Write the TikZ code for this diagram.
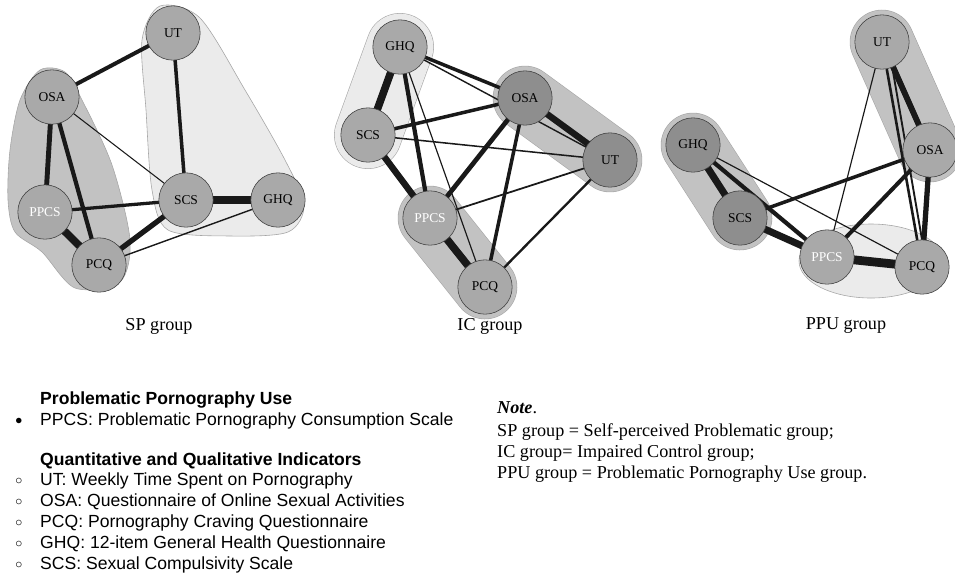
\documentclass[tikz,border=0pt]{standalone}
\usepackage{fontspec}
\setmainfont{Liberation Serif}
\newfontfamily\legendfont{Liberation Sans}
\usetikzlibrary{positioning}

\pgfdeclarelayer{hulls}
\pgfdeclarelayer{edges}
\pgfsetlayers{hulls,edges,main}

\definecolor{nodelight}{HTML}{A9A9A9}
\definecolor{nodedark}{HTML}{8E8E8E}
\definecolor{hulllight}{HTML}{EBEBEB}
\definecolor{hullmid}{HTML}{C2C2C2}

\tikzset{
  netnode/.style={circle, draw=black!75, line width=0.5pt, fill=nodelight,
    minimum size=1.63cm, inner sep=0pt, font=\fontsize{11.5}{12}\selectfont},
  darknode/.style={netnode, fill=nodedark},
  tie/.style={line width=#1pt, black!90},
  hullcap/.style={draw=gray!70, line width=0.5pt, double=#1,
    double distance=1.9cm, line cap=round},
  hullarea/.style={draw=gray!70, line width=0.5pt, fill=#1},
  groupcap/.style={font=\fontsize{15.5}{18}\selectfont},
  notetext/.style={anchor=west, inner sep=0pt, font=\fontsize{15.5}{18}\selectfont},
  legtext/.style={anchor=west, inner sep=0pt, font=\legendfont\fontsize{15}{17}\selectfont},
  leghead/.style={legtext, font=\legendfont\bfseries\fontsize{15}{17}\selectfont},
  legmark/.style={inner sep=0pt, font=\fontsize{12}{12}\selectfont},
}

\begin{document}
\begin{tikzpicture}[x=0.03cm, y=-0.03cm]
    \useasboundingbox (0,0) rectangle (955,577);

    % SP group
    \node[netnode] (spUT) at (173,33) {UT};
    \node[netnode] (spOSA) at (52,97) {OSA};
    \node[netnode, text=white] (spPPCS) at (45,212) {PPCS};
    \node[netnode] (spPCQ) at (99,265) {PCQ};
    \node[netnode] (spSCS) at (186,200) {SCS};
    \node[netnode] (spGHQ) at (278,200) {GHQ};

    % IC group
    \node[netnode] (icGHQ) at (400,47) {GHQ};
    \node[darknode] (icOSA) at (525,98) {OSA};
    \node[netnode] (icSCS) at (368,135) {SCS};
    \node[darknode] (icUT) at (610,160) {UT};
    \node[netnode, text=white] (icPPCS) at (430,218) {PPCS};
    \node[netnode] (icPCQ) at (485,287) {PCQ};

    % PPU group
    \node[netnode] (ppuUT) at (882,42) {UT};
    \node[netnode] (ppuOSA) at (930,150) {OSA};
    \node[darknode] (ppuGHQ) at (693,145) {GHQ};
    \node[darknode] (ppuSCS) at (740,218) {SCS};
    \node[netnode, text=white] (ppuPPCS) at (827,257) {PPCS};
    \node[netnode] (ppuPCQ) at (922,267) {PCQ};

    \begin{pgfonlayer}{hulls}
        \draw[hullarea=hullmid] plot[smooth cycle] coordinates
            {(40,70) (20,100) (10,150) (8,200) (15,232) (42,252) (75,288)
             (120,282) (130,240) (112,165) (82,100) (65,72)};
        \draw[hullarea=hulllight] plot[smooth cycle] coordinates
            {(160,6) (200,18) (245,90) (285,160) (304,205) (288,232)
             (230,236) (168,230) (152,190) (146,110) (142,40)};
        \draw[hullcap=hulllight, double distance=2cm] (icGHQ.center) -- (icSCS.center);
        \draw[hullcap=hullmid] (icOSA.center) -- (icUT.center);
        \draw[hullcap=hullmid] (icPPCS.center) -- (icPCQ.center);
        \draw[hullcap=hullmid] (ppuUT.center) -- (ppuOSA.center);
        \draw[hullcap=hullmid] (ppuGHQ.center) -- (ppuSCS.center);
        \draw[hullarea=hulllight] (871,261) ellipse [x radius=72, y radius=37];
    \end{pgfonlayer}

    \begin{pgfonlayer}{edges}
        \foreach \a/\b/\w in {spOSA/spUT/3.4, spUT/spSCS/3, spOSA/spPPCS/4.2,
                spOSA/spPCQ/3.6, spOSA/spSCS/0.9, spPPCS/spSCS/2.8,
                spPPCS/spPCQ/6.5, spSCS/spPCQ/4.5, spSCS/spGHQ/6, spPCQ/spGHQ/1.2} {
            \draw[tie=\w] (\a.center) -- (\b.center);
        }
        \foreach \a/\b/\w in {icGHQ/icSCS/6.5, icGHQ/icPPCS/3.6, icGHQ/icPCQ/1,
                icGHQ/icOSA/3, icGHQ/icUT/1.2, icSCS/icOSA/3, icSCS/icUT/1.3,
                icSCS/icPPCS/5.5, icOSA/icUT/5.5, icOSA/icPPCS/4, icOSA/icPCQ/3,
                icPPCS/icUT/1.5, icPPCS/icPCQ/6.5, icPCQ/icUT/2} {
            \draw[tie=\w] (\a.center) -- (\b.center);
        }
        \foreach \a/\b/\w in {ppuUT/ppuOSA/5, ppuUT/ppuPPCS/1, ppuOSA/ppuPCQ/4.5,
                ppuOSA/ppuPPCS/3.4, ppuOSA/ppuSCS/3, ppuGHQ/ppuSCS/6,
                ppuGHQ/ppuPPCS/3.6, ppuGHQ/ppuPCQ/1, ppuSCS/ppuPPCS/6,
                ppuPPCS/ppuPCQ/7.5} {
            \draw[tie=\w] (\a.center) -- (\b.center);
        }
        \draw[tie=2.2] (ppuUT.-80) -- (ppuPCQ.100);
        \draw[tie=1.6] (ppuUT.-68) -- (ppuPCQ.90);
    \end{pgfonlayer}

    % group labels
    \node[groupcap] (capSP) at (159,326) {SP group};
    \node[groupcap] (capIC) at (490,326) {IC group};
    \node[groupcap] (capPPU) at (846,326) {PPU group};

    % legend
    \node[leghead] (legPPU) at (40,400) {Problematic Pornography Use};
    \node[legmark] (markPPCS) at (19,421) {$\bullet$};
    \node[legtext] (legPPCS) at (40,421) {PPCS: Problematic Pornography Consumption Scale};
    \node[leghead] (legQQI) at (40,461) {Quantitative and Qualitative Indicators};
    \foreach \i/\txt in {0/UT: Weekly Time Spent on Pornography,
            1/OSA: Questionnaire of Online Sexual Activities,
            2/PCQ: Pornography Craving Questionnaire,
            3/GHQ: 12-item General Health Questionnaire,
            4/SCS: Sexual Compulsivity Scale} {
        \node[legmark] (mark\i) at (19,481+21*\i) {$\circ$};
        \node[legtext] (leg\i) at (40,481+21*\i) {\txt};
    }

    % note
    \node[notetext] (noteHead) at (497,408) {\textbf{\textit{Note}}.};
    \node[notetext] (noteSP) at (497,432) {SP group = Self-perceived Problematic group;};
    \node[notetext] (noteIC) at (497,453) {IC group= Impaired Control group;};
    \node[notetext] (notePPU) at (497,474) {PPU group = Problematic Pornography Use group.};
\end{tikzpicture}
\end{document}
